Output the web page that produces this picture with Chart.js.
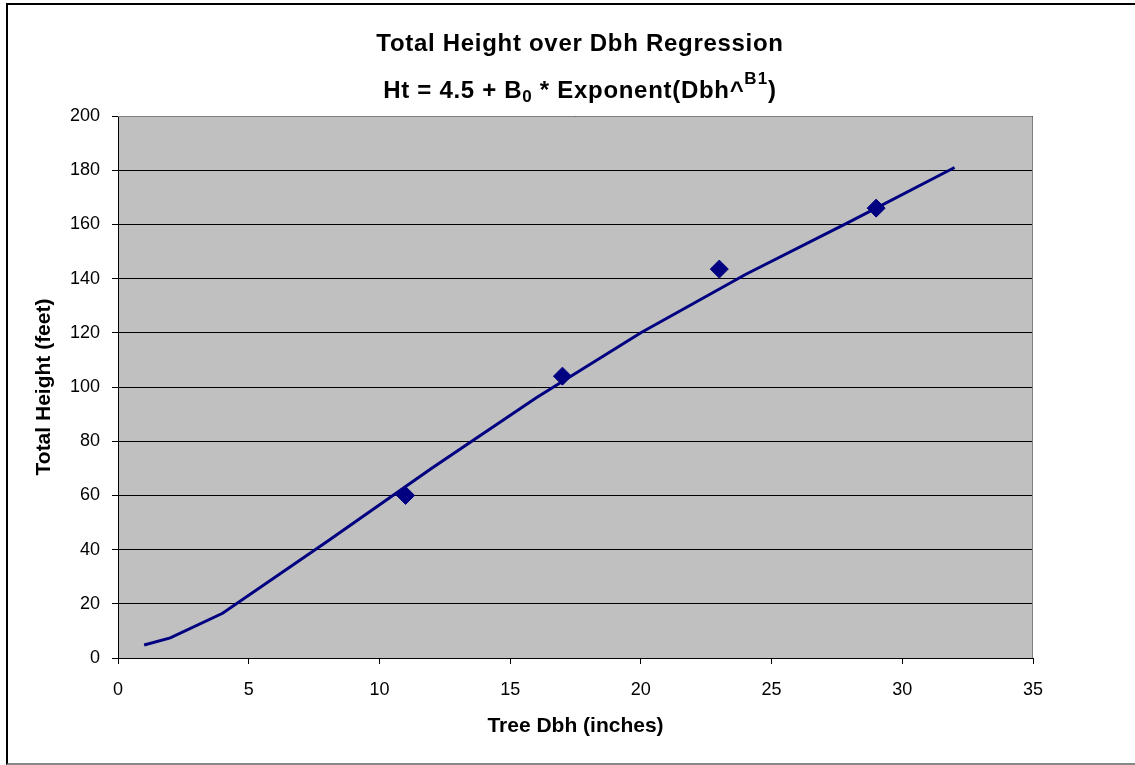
<!DOCTYPE html>
<html>
<head>
<meta charset="utf-8">
<script src="https://cdn.jsdelivr.net/npm/chart.js@4"></script>
<style>
  html, body { margin: 0; padding: 0; background: #fff; }
  #wrap { position: relative; width: 1135px; height: 765px; overflow: hidden; }
  #frame { position: absolute; left: 6px; top: 3px; width: 1140px; height: 758px;
           border-left: 2px solid #000; border-top: 2px solid #000; border-bottom: 2px solid #888; }
  canvas { position: absolute; left: 0; top: 0; }
  .ttl { position: absolute; left: 0; width: 1160px; text-align: center;
         font-family: 'Liberation Sans', Arial, sans-serif; font-weight: bold;
         font-size: 24px; line-height: 24px; letter-spacing: 0.7px; color: #000; white-space: nowrap; }
  .sub { font-size: 17px; position: relative; top: 4px; }
  .sup { font-size: 17px; position: relative; top: -14px; letter-spacing: 1px; }
</style>
</head>
<body>
<div id="wrap">
  <div id="frame"></div>
  <canvas id="chart" width="1135" height="765"></canvas>
  <div class="ttl" style="top:31px">Total Height over Dbh Regression</div>
  <div class="ttl" style="top:78px">Ht = 4.5 + B<span class="sub">0</span> * Exponent(Dbh^<span class="sup">B1</span>)</div>
</div>
<script>
// fitted curve
const dbhCurve = [1, 2, 4, 8, 12, 16, 20, 24, 28, 32];
const htCurve = [4.8, 7.4, 16.5, 43, 70, 96, 120, 141.5, 161, 181];
// observed trees
const dbhObs = [11, 17, 23, 29];
const htObs = [60, 104, 143.5, 166];
// axis ticks
const xTicks = [0, 5, 10, 15, 20, 25, 30, 35];
const yTicks = [0, 20, 40, 60, 80, 100, 120, 140, 160, 180, 200];

const navy = '#000080';
const fontFam = "'Liberation Sans', Arial, sans-serif";

const plotBg = {
    id: 'plotBg',
    beforeDraw(chart) {
        const a = chart.chartArea;
        const c = chart.ctx;
        c.save();
        c.fillStyle = '#c0c0c0';
        c.fillRect(a.left, a.top, a.right - a.left, a.bottom - a.top);
        c.restore();
    },
    beforeDatasetsDraw(chart) {
        // grey top and right edges of plot area
        const a = chart.chartArea;
        const c = chart.ctx;
        c.save();
        c.strokeStyle = '#808080';
        c.lineWidth = 1;
        c.beginPath();
        c.moveTo(a.left, a.top + 0.5);
        c.lineTo(a.right - 0.5, a.top + 0.5);
        c.lineTo(a.right - 0.5, a.bottom);
        c.stroke();
        c.restore();
    }
};

const ctx = document.getElementById('chart').getContext('2d');
new Chart(ctx, {
    type: 'scatter',
    data: {
        datasets: [{
            label: 'Fitted',
            data: dbhCurve.map((x, i) => ({ x: x, y: htCurve[i] })),
            showLine: true,
            borderColor: navy,
            borderWidth: 3,
            pointRadius: 0,
            tension: 0
        }, {
            label: 'Observed',
            data: dbhObs.map((x, i) => ({ x: x, y: htObs[i] })),
            pointStyle: 'rectRot',
            pointRadius: 9,
            borderWidth: 1,
            backgroundColor: navy,
            borderColor: navy
        }]
    },
    options: {
        responsive: false,
        animation: false,
        layout: { padding: { left: 8, right: 102, top: 116, bottom: 0 } },
        plugins: {
            legend: { display: false },
            tooltip: { enabled: false }
        },
        scales: {
            x: {
                type: 'linear',
                min: 0,
                max: 35,
                afterBuildTicks: s => { s.ticks = xTicks.map(v => ({ value: v })); },
                afterFit: s => { s.height = 107; },
                grid: { drawOnChartArea: false, drawTicks: true, tickLength: 6, color: '#000' },
                border: { color: '#000', width: 1 },
                ticks: { color: '#000', padding: 15, font: { family: fontFam, size: 18 } },
                title: {
                    display: true,
                    text: 'Tree Dbh (inches)',
                    color: '#000',
                    font: { family: fontFam, size: 21, weight: 'bold' },
                    padding: { top: 0, bottom: 26 }
                }
            },
            y: {
                type: 'linear',
                min: 0,
                max: 200,
                afterBuildTicks: s => { s.ticks = yTicks.map(v => ({ value: v })); },
                afterFit: s => { s.width = 110; },
                grid: { color: '#000', lineWidth: 1, drawTicks: true, tickLength: 6 },
                border: { color: '#000', width: 1 },
                ticks: { color: '#000', padding: 12, font: { family: fontFam, size: 18 } },
                title: {
                    display: true,
                    text: 'Total Height (feet)',
                    color: '#000',
                    font: { family: fontFam, size: 21, weight: 'bold' },
                    padding: { top: 24, bottom: 0 }
                }
            }
        }
    },
    plugins: [plotBg]
});
</script>
</body>
</html>
